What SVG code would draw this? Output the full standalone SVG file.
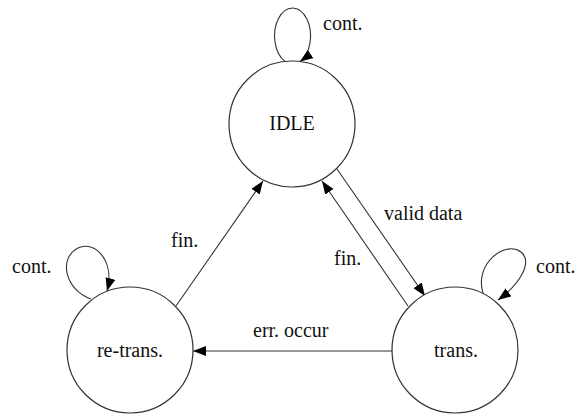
<svg xmlns="http://www.w3.org/2000/svg" width="579" height="417" viewBox="0 0 579 417">
<defs>
<marker id="arr" markerUnits="userSpaceOnUse" markerWidth="14" markerHeight="11" refX="13" refY="5" orient="auto">
<path d="M0,0 L13,5 L0,10 z" fill="#000"/>
</marker>
<style>
.node{fill:#fff;stroke:#333;stroke-width:1.2}
.edge{fill:none;stroke:#333;stroke-width:1.1;marker-end:url(#arr)}
.c{text-anchor:middle}
</style>
</defs>
<rect width="579" height="417" fill="#fff"/>
<g id="connectors">
<path class="edge" d="M285,61.4 A18,28 0 1 1 300,61.5"/>
<path class="edge" d="M483,293 C474,264 505,240 521,252 C533,262 520,284 498,300"/>
<path class="edge" d="M91,299 C65,290 58,258 78,248 C96,240 115,262 107,291"/>
<path class="edge" d="M337,169 L425,296"/>
<path class="edge" d="M408,306 L322,181"/>
<path class="edge" d="M176,306 L263,181"/>
<path class="edge" d="M392,351 L193,351"/>
</g>
<g font-family="Liberation Serif, Times New Roman, serif" font-size="20" fill="#111">
<g id="labels">
<text x="323" y="30">cont.</text>
<text x="536" y="273">cont.</text>
<text x="12" y="273">cont.</text>
<text x="384" y="220">valid data</text>
<text x="334" y="265">fin.</text>
<text x="171" y="247">fin.</text>
<text x="253" y="337">err. occur</text>
</g>
<g id="node-idle">
<circle class="node" cx="292" cy="124" r="63"/>
<text class="c" x="292" y="130">IDLE</text>
</g>
<g id="node-trans">
<circle class="node" cx="455" cy="350" r="63"/>
<text class="c" x="456" y="357">trans.</text>
</g>
<g id="node-retrans">
<circle class="node" cx="130" cy="350" r="63"/>
<text class="c" x="130" y="357">re-trans.</text>
</g>
</g>
</svg>
